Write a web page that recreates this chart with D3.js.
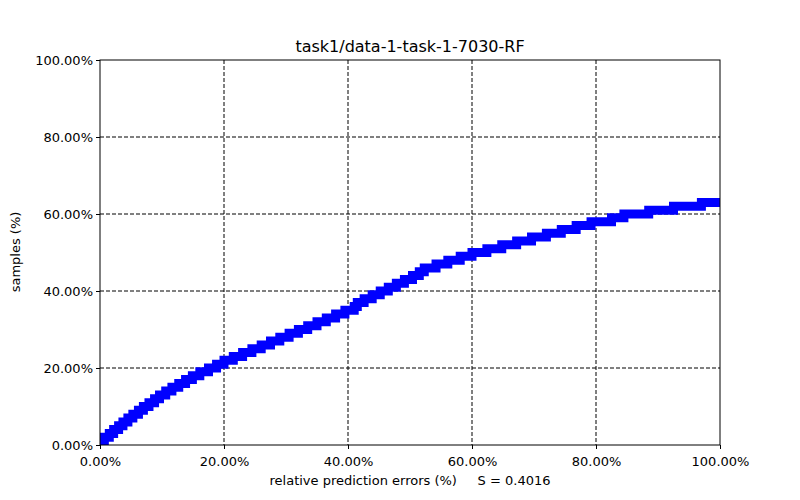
<!DOCTYPE html>
<html><head><meta charset="utf-8">
<script src="https://cdn.jsdelivr.net/npm/d3@7"></script>
<style>body{margin:0;background:#fff}text{font-family:"DejaVu Sans",sans-serif}</style>
</head><body>
<script>
// step levels (samples %) and relative error (%) where each level is reached
var levels = [0,1,2,3,4,5,6,7,8,9,10,11,12,13,14,15,16,17,18,19,20,21,22,23,24,25,26,27,28,29,30,31,32,33,34,35,36,37,38,39,40,41,42,43,44,45,46,47,48,49,50,51,52,53,54,55,56,57,58,59,60,61,62,63];
var errors = [0,0.3,0.7,1.5,2.2,3,3.7,4.5,5.3,6.2,7,7.9,8.8,9.6,10.6,11.6,12.7,13.8,14.9,16.1,17.5,18.8,20,21.5,23,24.5,26,27.5,29,30.5,32,33.5,35,36.5,38,39.5,41,41.5,42.6,43.9,45.2,46.5,47.8,49.1,50.4,51.5,52.3,54.2,56.1,58.1,60,62.4,64.8,67.2,69.6,72,74.4,76.8,79.2,82.5,84.5,88.5,92.5,97];
var ticks = [0,20,40,60,80,100];

var margin = {top: 60, left: 100}, width = 620, height = 385;
var x = d3.scaleLinear().domain([0,100]).range([0,width]);
var y = d3.scaleLinear().domain([0,100]).range([height,0]);
var fmt = function(d){ return d.toFixed(2) + "%"; };

var svg = d3.select("body").append("svg").attr("width",800).attr("height",500);
var g = svg.append("g").attr("transform","translate(" + margin.left + "," + margin.top + ")");

svg.append("defs").append("clipPath").attr("id","clip")
   .append("rect").attr("width",width).attr("height",height);

// grid
g.selectAll(".gx").data(ticks.slice(1,-1)).enter().append("line")
   .attr("x1",x).attr("x2",x).attr("y1",0).attr("y2",height)
   .attr("stroke","#000").attr("stroke-dasharray","4,2");
g.selectAll(".gy").data(ticks.slice(1,-1)).enter().append("line")
   .attr("y1",y).attr("y2",y).attr("x1",0).attr("x2",width)
   .attr("stroke","#000").attr("stroke-dasharray","4,2");

// curve
var pts = levels.map(function(l,i){ return [errors[i], l]; });
pts.push([100, levels[levels.length-1]]);
g.append("path").datum(pts)
   .attr("clip-path","url(#clip)")
   .attr("d", d3.line().x(function(d){return x(d[0]);}).y(function(d){return y(d[1]);}).curve(d3.curveStepAfter))
   .attr("fill","none").attr("stroke","#0000ff").attr("stroke-width",9)
   .attr("stroke-linecap","square").attr("stroke-linejoin","miter");

// frame
g.append("rect").attr("width",width).attr("height",height).attr("fill","none").attr("stroke","#000");

var xa = g.append("g").attr("transform","translate(0," + height + ")")
   .call(d3.axisBottom(x).tickValues(ticks).tickFormat(fmt).tickSize(4));
var ya = g.append("g").call(d3.axisLeft(y).tickValues(ticks).tickFormat(fmt).tickSize(4));
[xa,ya].forEach(function(a){
   a.select(".domain").remove();
   a.selectAll("text").attr("font-size",13).attr("fill","#000").attr("font-family","DejaVu Sans");
});
xa.selectAll("text").attr("dy","1.1em");

svg.append("text").attr("x",410).attr("y",52).attr("text-anchor","middle")
   .attr("font-size",16).text("task1/data-1-task-1-7030-RF");
svg.append("text").attr("x",410).attr("y",485).attr("text-anchor","middle")
   .attr("font-size",13).attr("xml:space","preserve").text("relative prediction errors (%)     S = 0.4016");
svg.append("text").attr("transform","translate(20,252) rotate(-90)").attr("text-anchor","middle")
   .attr("font-size",13).text("samples (%)");
</script>
</body></html>
